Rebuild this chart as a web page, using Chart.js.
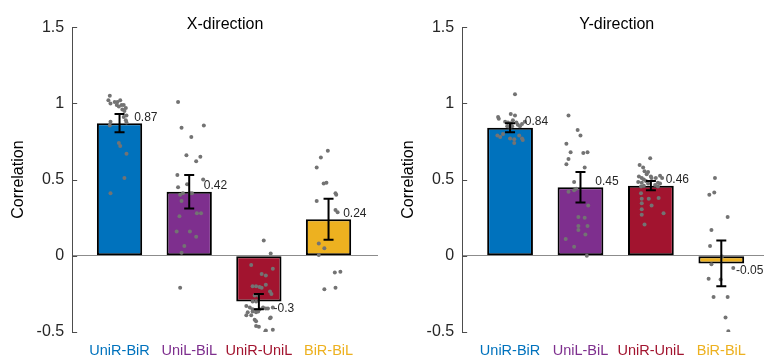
<!DOCTYPE html>
<html>
<head>
<meta charset="utf-8">
<script src="https://cdn.jsdelivr.net/npm/chart.js@4.4.0/dist/chart.umd.min.js"></script>
<style>
  html, body { margin: 0; padding: 0; background: #fff; }
  body { width: 764px; height: 360px; position: relative; overflow: hidden; }
  canvas { position: absolute; top: 0; }
  #chartX { left: 0; }
  #chartY { left: 382px; }
</style>
</head>
<body>
<canvas id="chartX" width="382" height="360"></canvas>
<canvas id="chartY" width="400" height="360"></canvas>
<script>
const FONT = '"Liberation Sans", Arial, Helvetica, sans-serif';

const categories = ['UniR-BiR', 'UniL-BiL', 'UniR-UniL', 'BiR-BiL'];
const categoryColors = ['#0072BD', '#7E2F8E', '#A2142F', '#EDB120'];
const yTickValues = [-0.5, 0, 0.5, 1, 1.5];

// X-direction: group means, error bar half-lengths, per-subject values
const xMeans = [0.87, 0.42, -0.3, 0.24];
const xErrors = [0.06, 0.11, 0.05, 0.135];
const xPoints = [
  [1.05, 1.02, 1.00, 1.01, 1.01, 1.02, 0.99, 0.98, 0.99, 0.99, 0.97, 0.96, 0.95, 0.92, 0.91, 0.89, 0.875, 0.88, 0.855, 0.74, 0.72, 0.67, 0.51, 0.41],
  [1.01, 0.84, 0.855, 0.78, 0.66, 0.65, 0.62, 0.53, 0.50, 0.45, 0.47, 0.40, 0.41, 0.41, 0.41, 0.36, 0.28, 0.28, 0.26, 0.16, 0.16, 0.125, 0.065, 0.02, -0.21],
  [0.10, 0.015, -0.06, -0.085, -0.12, -0.13, -0.19, -0.20, -0.20, -0.205, -0.21, -0.235, -0.25, -0.26, -0.26, -0.30, -0.30, -0.33, -0.34, -0.35, -0.355, -0.35, -0.34, -0.345, -0.345, -0.34, -0.37, -0.365, -0.37, -0.365, -0.39, -0.39, -0.42, -0.43, -0.41, -0.405, -0.46, -0.465, -0.49, -0.485, -0.50, -0.55],
  [0.69, 0.645, 0.58, 0.475, 0.48, 0.41, 0.40, 0.36, 0.30, 0.285, 0.08, 0.05, 0.005, -0.11, -0.105, -0.22, -0.21]
];
// horizontal jitter of each subject dot, in category units
const xJitter = [
  [-0.14, -0.16, -0.13, -0.07, -0.03, 0.01, -0.04, -0.01, 0.03, 0.06, 0.09, 0.04, 0.07, 0.10, 0.06, 0.09, 0.10, -0.13, -0.14, -0.01, 0.01, 0.10, 0.07, -0.13],
  [-0.16, -0.11, 0.21, 0.03, -0.04, 0.16, 0.10, -0.17, 0.20, -0.16, -0.03, -0.13, -0.09, 0.01, 0.04, -0.11, 0.11, 0.17, -0.14, -0.18, 0.01, 0.10, -0.07, -0.11, -0.13],
  [0.07, 0.17, -0.11, 0.20, 0.04, 0.10, 0.10, -0.09, -0.04, 0.01, 0.04, 0.16, 0.18, -0.06, -0.01, -0.09, -0.04, -0.18, -0.13, -0.09, -0.04, 0.01, 0.06, 0.10, 0.13, 0.20, -0.16, -0.09, -0.04, -0.01, -0.18, -0.11, -0.06, -0.04, 0.16, 0.17, -0.04, 0, 0.10, 0.20, 0.09, -0.18],
  [-0.01, -0.11, -0.17, -0.07, -0.03, 0.10, 0.11, -0.17, 0.10, 0.13, -0.14, -0.06, -0.14, 0.09, 0.17, -0.06, 0.10]
];

// Y-direction
const yMeans = [0.84, 0.45, 0.46, -0.05];
const yErrors = [0.03, 0.10, 0.03, 0.15];
const yPoints = [
  [1.06, 0.91, 0.90, 0.93, 0.92, 0.88, 0.875, 0.87, 0.89, 0.875, 0.88, 0.865, 0.85, 0.845, 0.85, 0.86, 0.85, 0.79, 0.78, 0.80, 0.77, 0.765, 0.79, 0.77, 0.76, 0.74],
  [0.92, 0.825, 0.79, 0.735, 0.68, 0.675, 0.68, 0.635, 0.60, 0.58, 0.485, 0.42, 0.43, 0.44, 0.33, 0.255, 0.25, 0.195, 0.195, 0.17, 0.14, 0.11, 0.06, 0.0],
  [0.64, 0.595, 0.58, 0.555, 0.55, 0.535, 0.52, 0.51, 0.50, 0.52, 0.51, 0.51, 0.525, 0.51, 0.485, 0.48, 0.49, 0.475, 0.48, 0.475, 0.455, 0.46, 0.465, 0.455, 0.41, 0.375, 0.375, 0.38, 0.345, 0.33, 0.305, 0.28, 0.27, 0.205],
  [0.51, 0.40, 0.415, 0.255, 0.17, 0.065, -0.005, -0.055, -0.08, -0.15, -0.155, -0.27, -0.27, -0.405, -0.495, -0.56]
];
const yJitter = [
  [0.07, -0.17, -0.16, 0.01, 0.07, -0.07, -0.03, 0.01, 0.04, 0.09, 0.21, 0.17, -0.04, 0, 0.03, 0.11, 0.14, -0.18, -0.14, -0.10, 0, 0.06, 0.13, 0.17, 0.18, 0.06],
  [-0.17, -0.04, 0, -0.20, -0.14, 0.04, 0.10, -0.17, -0.20, 0.06, -0.09, -0.17, -0.09, -0.06, 0.11, -0.03, 0.06, -0.03, 0.10, -0.03, 0.07, -0.21, -0.09, 0.09],
  [-0.01, -0.16, -0.11, -0.09, -0.04, -0.06, -0.17, -0.13, -0.10, 0, 0.01, 0.07, 0.13, 0.16, -0.18, -0.13, -0.07, -0.04, 0.10, 0.13, -0.14, -0.10, 0.06, 0.10, -0.14, -0.13, -0.03, 0.11, -0.13, 0.01, -0.13, 0.18, -0.13, -0.09],
  [-0.09, -0.17, -0.10, 0.09, -0.14, -0.16, 0.01, -0.14, 0.17, -0.18, -0.01, -0.11, 0.09, 0.06, 0.10, 0.03]
];

function drawPanel(canvasId, title, means, errors, points, jitter, padLeft, padRight) {
  const dots = [];
  points.forEach((vals, i) => {
    vals.forEach((v, k) => dots.push({ x: i + 1 + jitter[i][k], y: v }));
  });

  // error bars, value labels and the inward y ticks (matlab style)
  const extras = {
    id: 'extras',
    afterDatasetsDraw(chart) {
      const { ctx, scales: { x, y } } = chart;
      ctx.save();
      ctx.strokeStyle = '#000';
      ctx.lineWidth = 2;
      means.forEach((m, i) => {
        const px = x.getPixelForValue(i + 1);
        const top = y.getPixelForValue(m + errors[i]);
        const bot = y.getPixelForValue(m - errors[i]);
        ctx.beginPath();
        ctx.moveTo(px, top); ctx.lineTo(px, bot);
        ctx.moveTo(px - 5, top); ctx.lineTo(px + 5, top);
        ctx.moveTo(px - 5, bot); ctx.lineTo(px + 5, bot);
        ctx.stroke();
      });
      ctx.fillStyle = '#262626';
      ctx.font = '12px ' + FONT;
      ctx.textAlign = 'left';
      ctx.textBaseline = 'middle';
      means.forEach((m, i) => {
        const ly = y.getPixelForValue(m) + (m >= 0 ? -6 : 7);
        ctx.fillText(String(m), x.getPixelForValue(i + 1.21), ly);
      });
      ctx.strokeStyle = '#4d4d4d';
      ctx.lineWidth = 1;
      ctx.beginPath();
      y.ticks.forEach(t => {
        const py = Math.round(y.getPixelForValue(t.value)) + 0.5;
        ctx.moveTo(x.left, py);
        ctx.lineTo(x.left + 5, py);
      });
      ctx.stroke();
      ctx.restore();
    }
  };

  return new Chart(document.getElementById(canvasId), {
    type: 'bar',
    data: {
      datasets: [
        {
          type: 'scatter',
          data: dots,
          pointRadius: 2,
          pointBackgroundColor: '#737373',
          pointBorderWidth: 0,
          order: 0
        },
        {
          type: 'bar',
          data: means.map((m, i) => ({ x: i + 1, y: m })),
          backgroundColor: categoryColors,
          borderColor: '#000',
          borderWidth: 2,
          borderSkipped: false,
          barPercentage: 0.65,
          categoryPercentage: 1,
          order: 1
        }
      ]
    },
    options: {
      responsive: false,
      animation: false,
      devicePixelRatio: 1,
      events: [],
      layout: { padding: { left: padLeft, right: padRight, top: 0, bottom: 0 } },
      plugins: {
        legend: { display: false },
        tooltip: { enabled: false },
        title: {
          display: true,
          text: title,
          fullSize: false,
          color: '#000',
          font: { family: FONT, size: 16, weight: 'normal' },
          padding: { top: 15, bottom: -7 }
        }
      },
      scales: {
        x: {
          type: 'linear',
          min: 0.32,
          max: 4.71,
          offset: false,
          grid: { display: false, drawTicks: false, offset: false },
          border: { display: false },
          afterBuildTicks: s => { s.ticks = categories.map((c, i) => ({ value: i + 1 })); },
          afterFit: s => { s.height = 28; },
          ticks: {
            autoSkip: false,
            maxRotation: 0,
            padding: 10,
            font: { family: FONT, size: 14.5 },
            color: c => categoryColors[c.index],
            callback: v => categories[v - 1]
          }
        },
        y: {
          min: -0.5,
          max: 1.5,
          afterBuildTicks: s => { s.ticks = yTickValues.map(v => ({ value: v })); },
          grid: {
            drawTicks: false,
            color: c => (c.tick && c.tick.value === 0) ? '#8c8c8c' : 'rgba(0,0,0,0)'
          },
          border: { display: true, color: '#4d4d4d', width: 1 },
          ticks: {
            padding: 8,
            color: '#262626',
            font: { family: FONT, size: 16 },
            callback: v => String(v)
          },
          title: {
            display: true,
            text: 'Correlation',
            color: '#000',
            font: { family: FONT, size: 16 },
            padding: { top: 0, bottom: 0 }
          }
        }
      }
    },
    plugins: [extras]
  });
}

drawPanel('chartX', 'X-direction', xMeans, xErrors, xPoints, xJitter, 9.4, 1);
drawPanel('chartY', 'Y-direction', yMeans, yErrors, yPoints, yJitter, 17.4, 10.7);
</script>
</body>
</html>
